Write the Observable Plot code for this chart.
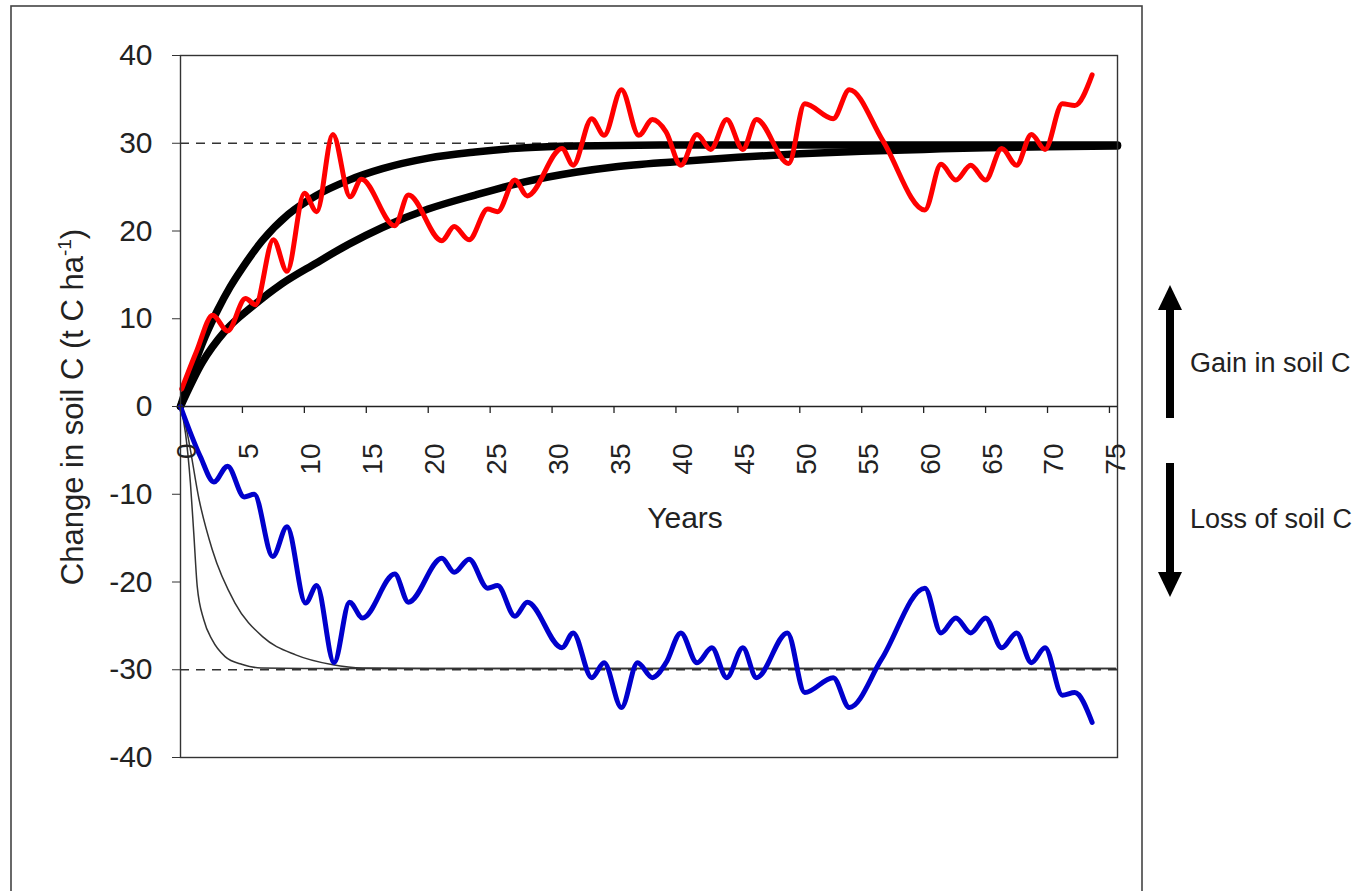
<!DOCTYPE html>
<html><head><meta charset="utf-8">
<script src="https://cdn.jsdelivr.net/npm/d3@7"></script>
<script src="https://cdn.jsdelivr.net/npm/@observablehq/plot@0.6"></script>
<style>
html,body{margin:0;padding:0;background:#fff;}
#chart{position:relative;width:1352px;height:891px;overflow:hidden;}
</style></head><body><div id="chart"></div>
<script>
// ---- Data ----
const xTicks = [0,5,10,15,20,25,30,35,40,45,50,55,60,65,70,75];
const yTicks = [-40,-30,-20,-10,0,10,20,30,40];
const equilibria = [30, -30];

// Red: fluctuating gain series
const redYears  = [0.1,1.3,2.6,3.8,5.25,6.05,7.5,8.6,10.0,11.0,12.3,13.7,14.6,17.3,18.4,21.1,22.1,23.3,24.8,25.6,27.0,28.0,30.8,31.7,33.2,34.2,35.6,37.0,38.1,39.2,40.4,41.7,42.8,44.1,45.4,46.5,49.1,50.4,52.7,54.0,56.7,60.1,61.4,62.6,63.8,65.0,66.3,67.5,68.7,69.8,71.2,72.2,73.6];
const redValues = [2.0,6.3,10.4,8.6,12.3,11.6,19.0,15.4,24.3,22.2,31.0,23.9,25.9,20.6,24.1,18.9,20.5,19.0,22.5,22.2,25.8,24.0,29.4,27.5,32.8,30.9,36.1,30.9,32.7,31.3,27.5,31.0,29.3,32.7,29.3,32.7,27.7,34.5,32.8,36.1,30.3,22.4,27.6,25.8,27.5,25.8,29.4,27.5,31.0,29.3,34.5,34.3,37.8];

// Blue: fluctuating loss series
const blueYears  = [0,1.6,2.7,3.8,5.15,5.95,7.45,8.6,10.1,11.0,12.4,13.65,14.7,17.3,18.4,21.1,22.1,23.3,24.8,25.6,27.0,28.0,30.8,31.7,33.2,34.2,35.6,36.9,38.1,39.2,40.4,41.7,42.9,44.1,45.4,46.5,49.0,50.4,52.7,54.0,56.6,60.1,61.4,62.6,63.8,65.0,66.3,67.5,68.7,69.8,71.2,72.2,73.6];
const blueValues = [0,-5.7,-8.6,-6.8,-10.3,-10.0,-17.1,-13.7,-22.4,-20.4,-29.2,-22.3,-24.1,-19.1,-22.3,-17.3,-18.9,-17.4,-20.7,-20.4,-23.9,-22.3,-27.5,-25.8,-30.9,-29.2,-34.3,-29.2,-30.9,-29.2,-25.8,-29.2,-27.5,-30.9,-27.5,-30.9,-25.8,-32.6,-30.9,-34.3,-28.8,-20.7,-25.8,-24.1,-25.8,-24.1,-27.5,-25.8,-29.2,-27.5,-32.9,-32.6,-36.0];

// Black thick: fast and slow gain curves
const fastYears  = [0,1,2,3,4,5,6.6,8.7,10.9,13.6,16.3,20.0,23.8,27.8,31.9,40,50,60,75.65];
const fastValues = [0,4.3,8.0,11.0,13.6,15.8,18.9,21.9,24.0,25.8,27.1,28.3,29.0,29.5,29.7,29.8,29.8,29.8,29.8];
const slowYears  = [0,1.75,3.6,5.8,8.2,10.9,13.6,16.3,20.0,23.8,27.8,31.9,35,40,45,50,55,60,65,70,75.65];
const slowValues = [0,5.0,8.6,11.4,14.0,16.3,18.5,20.4,22.5,24.1,25.6,26.7,27.3,27.9,28.4,28.8,29.1,29.3,29.5,29.6,29.7];

// Thin: two fast loss curves
const thinAYears  = [0,0.4,0.8,1.07,1.35,1.88,2.56,3.6,5.0,6.5,10,75.5];
const thinAValues = [0,-3.0,-8.7,-14.4,-20.5,-24.3,-26.6,-28.5,-29.4,-29.8,-29.85,-29.85];
const thinBYears  = [0,0.54,1.5,2.56,4.4,6.6,9.3,12.2,14.7,20,75.5];
const thinBValues = [0,-3.0,-10.6,-16.3,-22.4,-26.2,-28.3,-29.4,-29.8,-29.85,-29.85];

const zip = (xs, ys) => xs.map((x, i) => ({year: x, value: ys[i]}));
const red = zip(redYears, redValues);
const blue = zip(blueYears, blueValues);
const fast = zip(fastYears, fastValues);
const slow = zip(slowYears, slowValues);
const thinA = zip(thinAYears, thinAValues);
const thinB = zip(thinBYears, thinBValues);

const FONT = "'Liberation Sans', Arial, Helvetica, sans-serif";

const plot = Plot.plot({
  width: 1352, height: 891,
  marginLeft: 180, marginRight: 235, marginTop: 55, marginBottom: 134,
  x: {domain: [0, 75.65], axis: null},
  y: {domain: [-40, 40], axis: null},
  style: {fontFamily: FONT, background: "white", color: "#222", overflow: "visible"},
  marks: [
    Plot.ruleY(equilibria, {stroke: "#333", strokeWidth: 1.6, strokeDasharray: "9,7"}),
    Plot.line(thinA, {x: "year", y: "value", stroke: "#333", strokeWidth: 1.5, curve: "monotone-x"}),
    Plot.line(thinB, {x: "year", y: "value", stroke: "#333", strokeWidth: 1.5, curve: "monotone-x"}),
    Plot.line(slow, {x: "year", y: "value", stroke: "#000", strokeWidth: 7.5, curve: "monotone-x"}),
    Plot.line(fast, {x: "year", y: "value", stroke: "#000", strokeWidth: 7.5, curve: "monotone-x"}),
    Plot.line(red, {x: "year", y: "value", stroke: "#ff0000", strokeWidth: 5, curve: "monotone-x", strokeLinejoin: "round"}),
    Plot.line(blue, {x: "year", y: "value", stroke: "#0000cc", strokeWidth: 5, curve: "monotone-x", strokeLinejoin: "round"}),
    Plot.frame({stroke: "#333", strokeWidth: 1.4}),
    Plot.axisY(yTicks, {anchor: "left", tickSize: 8, tickPadding: 20, fontSize: 30, label: null, tickFormat: d => String(d), stroke: "#333", fill: "#222"}),
    Plot.ruleY([0], {stroke: "#222", strokeWidth: 1.5}),
    Plot.ruleX(xTicks.slice(1), {x: d => d, y1: 0, y2: 0, insetBottom: -7, stroke: "#222", strokeWidth: 1.3}),
    Plot.text(xTicks, {x: d => d, y: 0, text: d => String(d), rotate: -90, textAnchor: "end", dx: 7, dy: 37, fontSize: 28, fill: "#222"})
  ]
});

document.getElementById("chart").appendChild(plot);

// ---- Decorations: titles, side annotations, outer border ----
const svg = d3.select(plot);
svg.append("rect").attr("x", 11).attr("y", 6).attr("width", 1131).attr("height", 900)
  .attr("fill", "none").attr("stroke", "#444").attr("stroke-width", 1.6);

const yTitle = svg.append("text")
  .attr("transform", "translate(83,407) rotate(-90)")
  .attr("text-anchor", "middle")
  .attr("font-family", FONT).attr("font-size", 31).attr("fill", "#222");
yTitle.append("tspan").text("Change in soil C (t C ha");
yTitle.append("tspan").attr("font-size", 19).attr("dy", -12).text("-1");
yTitle.append("tspan").attr("dy", 12).text(")");

svg.append("text").attr("x", 685).attr("y", 528).attr("text-anchor", "middle")
  .attr("font-family", FONT).attr("font-size", 30).attr("fill", "#222").text("Years");

svg.append("text").attr("x", 1190).attr("y", 372).attr("text-anchor", "start")
  .attr("font-family", FONT).attr("font-size", 27).attr("fill", "#222").text("Gain in soil C");
svg.append("text").attr("x", 1190).attr("y", 528).attr("text-anchor", "start")
  .attr("font-family", FONT).attr("font-size", 27).attr("fill", "#222").text("Loss of soil C");

// arrows
svg.append("rect").attr("x", 1166).attr("y", 306).attr("width", 8).attr("height", 112).attr("fill", "#000");
svg.append("polygon").attr("points", "1158,310 1170,285 1182,310").attr("fill", "#000");
svg.append("rect").attr("x", 1166).attr("y", 463).attr("width", 8).attr("height", 112).attr("fill", "#000");
svg.append("polygon").attr("points", "1158,572 1170,597 1182,572").attr("fill", "#000");
</script>
</body></html>
